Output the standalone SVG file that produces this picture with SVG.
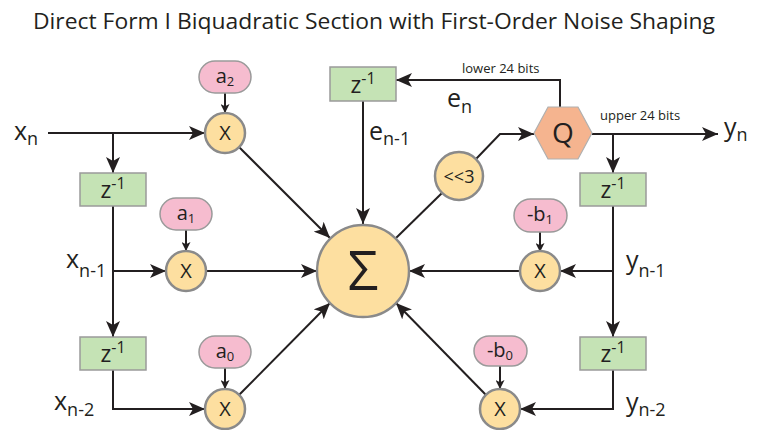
<svg xmlns="http://www.w3.org/2000/svg" width="760" height="430" viewBox="0 0 760 430">
<style>
text{font-family:"Open Sans","Liberation Sans",sans-serif;fill:#231F20}
.title{font-size:22px}
.lbl{font-size:25px}
.sub{font-size:18px}
.small{font-size:13px}
.w{stroke:#231F20;stroke-width:2;fill:none}
.mul{fill:#FDDFA0;stroke:#8A8A8A;stroke-width:2.5}
.coef{fill:#F6BCCF;stroke:#9A9A9A;stroke-width:1.5}
.delay{fill:#C5E3B5;stroke:#9A9A9A;stroke-width:1.5}
.q{fill:#F5B48F;stroke:#B0B0B0;stroke-width:1.2}
.ctr{text-anchor:middle}
.xt{font-size:20px}
</style>
<defs>
<marker id="arr" viewBox="0 0 16 14" markerWidth="16" markerHeight="14" refX="16" refY="7" orient="auto" markerUnits="userSpaceOnUse">
<path d="M0,0 L16,7 L0,14 L4,7 z" fill="#231F20"/>
</marker>
<marker id="arrs" viewBox="0 0 10 10" markerWidth="9" markerHeight="9" refX="10" refY="5" orient="auto" markerUnits="userSpaceOnUse">
<path d="M0,0 L10,5 L0,10 L2.5,5 z" fill="#231F20"/>
</marker>
</defs>

<text class="title ctr" x="374" y="29" textLength="682" lengthAdjust="spacingAndGlyphs">Direct Form I Biquadratic Section with First-Order Noise Shaping</text>

<g id="connectors">
<path class="w" d="M48,133 L205,133" marker-end="url(#arr)"/>
<path class="w" d="M113,133 L113,173" marker-end="url(#arr)"/>
<path class="w" d="M113,206 L113,337" marker-end="url(#arr)"/>
<path class="w" d="M113,271 L166,271" marker-end="url(#arr)"/>
<path class="w" d="M113,370 L113,409 L205,409" marker-end="url(#arr)"/>
<path class="w" d="M225,93 L225,113" marker-end="url(#arrs)" stroke-width="1.6"/>
<path class="w" d="M186,230 L186,251" marker-end="url(#arrs)" stroke-width="1.6"/>
<path class="w" d="M225,368 L225,389" marker-end="url(#arrs)" stroke-width="1.6"/>
<path class="w" d="M540,232 L540,252" marker-end="url(#arrs)" stroke-width="1.6"/>
<path class="w" d="M500,366 L500,389" marker-end="url(#arrs)" stroke-width="1.6"/>
<path class="w" d="M239,147 L330,238" marker-end="url(#arr)"/>
<path class="w" d="M206,271 L317,271" marker-end="url(#arr)"/>
<path class="w" d="M239,395 L330,303" marker-end="url(#arr)"/>
<path class="w" d="M520,271 L409,271" marker-end="url(#arr)"/>
<path class="w" d="M486,395 L396,303" marker-end="url(#arr)"/>
<path class="w" d="M363,101 L363,224" marker-end="url(#arr)"/>
<path class="w" d="M396,238 L442,193"/>
<path class="w" d="M476,159 L500,134 L534,134" marker-end="url(#arr)"/>
<path class="w" d="M560,107 L560,80 L396,80" marker-end="url(#arr)"/>
<path class="w" d="M592,134 L718,134" marker-end="url(#arr)"/>
<path class="w" d="M613,134 L613,173" marker-end="url(#arr)"/>
<path class="w" d="M613,206 L613,337" marker-end="url(#arr)"/>
<path class="w" d="M613,271 L560,271" marker-end="url(#arr)"/>
<path class="w" d="M613,370 L613,409 L520,409" marker-end="url(#arr)"/>
</g>

<g id="sum"><circle class="mul" cx="363" cy="271" r="46"/><text class="ctr" x="363" y="290" font-size="54">Σ</text></g>

<g id="mul_a2"><circle class="mul" cx="225" cy="133" r="20"/><text class="ctr xt" x="225" y="140">X</text></g>
<g id="mul_a1"><circle class="mul" cx="186" cy="271" r="20"/><text class="ctr xt" x="186" y="278">X</text></g>
<g id="mul_a0"><circle class="mul" cx="225" cy="409" r="20"/><text class="ctr xt" x="225" y="416">X</text></g>
<g id="mul_b1"><circle class="mul" cx="540" cy="271" r="20"/><text class="ctr xt" x="540" y="278">X</text></g>
<g id="mul_b0"><circle class="mul" cx="500" cy="409" r="20"/><text class="ctr xt" x="500" y="416">X</text></g>

<g id="shift"><circle class="mul" cx="459" cy="176" r="24"/><text class="ctr" x="459" y="183" font-size="18">&lt;&lt;3</text></g>

<g id="coef_a2"><rect class="coef" x="199" y="61" width="52" height="32" rx="16"/><text class="ctr" x="225" y="83" font-size="20">a<tspan font-size="13" dy="3">2</tspan></text></g>
<g id="coef_a1"><rect class="coef" x="160" y="198" width="52" height="32" rx="16"/><text class="ctr" x="186" y="220" font-size="20">a<tspan font-size="13" dy="3">1</tspan></text></g>
<g id="coef_a0"><rect class="coef" x="199" y="336" width="52" height="32" rx="16"/><text class="ctr" x="225" y="358" font-size="20">a<tspan font-size="13" dy="3">0</tspan></text></g>
<g id="coef_b1"><rect class="coef" x="514" y="199" width="53" height="33" rx="16.5"/><text class="ctr" x="540" y="221" font-size="20">-b<tspan font-size="13" dy="3">1</tspan></text></g>
<g id="coef_b0"><rect class="coef" x="474" y="336" width="53" height="30" rx="15"/><text class="ctr" x="500" y="357" font-size="20">-b<tspan font-size="13" dy="3">0</tspan></text></g>

<g id="delay_x1"><rect class="delay" x="80" y="173" width="66" height="33"/><text class="ctr" x="113" y="198" font-size="23">z<tspan font-size="16" dy="-9">-1</tspan></text></g>
<g id="delay_x2"><rect class="delay" x="80" y="337" width="66" height="33"/><text class="ctr" x="113" y="362" font-size="23">z<tspan font-size="16" dy="-9">-1</tspan></text></g>
<g id="delay_e"><rect class="delay" x="330" y="67" width="66" height="34"/><text class="ctr" x="363" y="93" font-size="23">z<tspan font-size="16" dy="-9">-1</tspan></text></g>
<g id="delay_y1"><rect class="delay" x="580" y="173" width="66" height="33"/><text class="ctr" x="613" y="198" font-size="23">z<tspan font-size="16" dy="-9">-1</tspan></text></g>
<g id="delay_y2"><rect class="delay" x="580" y="337" width="66" height="33"/><text class="ctr" x="613" y="362" font-size="23">z<tspan font-size="16" dy="-9">-1</tspan></text></g>

<g id="quantizer"><polygon class="q" points="534,133 548,107 578,107 592,133 578,159 548,159"/><text class="ctr" x="563" y="143" font-size="28">Q</text></g>

<g id="labels">
<text class="lbl" x="14" y="140">x<tspan class="sub" dy="5">n</tspan></text>
<text class="lbl" x="66" y="268">x<tspan class="sub" dy="9">n-1</tspan></text>
<text class="lbl" x="54" y="410">x<tspan class="sub" dy="6">n-2</tspan></text>
<text class="lbl" x="447" y="107">e<tspan class="sub" dy="6">n</tspan></text>
<text class="lbl" x="369" y="140">e<tspan class="sub" dy="5">n-1</tspan></text>
<text class="lbl" x="724" y="136">y<tspan class="sub" dy="5">n</tspan></text>
<text class="lbl" x="626" y="269">y<tspan class="sub" dy="8">n-1</tspan></text>
<text class="lbl" x="626" y="411">y<tspan class="sub" dy="5">n-2</tspan></text>
<text class="small" x="462" y="73">lower 24 bits</text>
<text class="small" x="600" y="120">upper 24 bits</text>
</g>
</svg>
